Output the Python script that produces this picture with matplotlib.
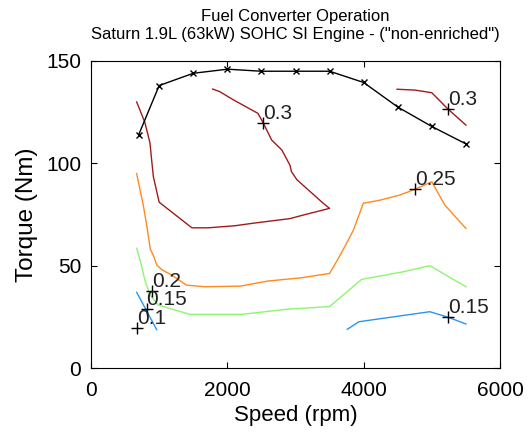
import numpy as np
import matplotlib
matplotlib.use('Agg')
import matplotlib.pyplot as plt

plt.rcParams['font.family'] = ['Liberation Sans', 'DejaVu Sans']

# wide open throttle (max torque) curve
speed_max = [700, 1000, 1500, 2000, 2500, 3000, 3500, 4000, 4500, 5000, 5500]
torque_max = [114, 138, 144, 146, 145, 145, 145, 139.5, 127.5, 118, 109.5]

# efficiency 0.30 contour, two pieces
eff30a_rpm = [670, 790, 865, 890, 915, 1000, 1480, 1720, 2110, 2370, 2920, 3110, 3500,
              3410, 3020, 2940, 2920, 2800, 2650, 2530, 2450, 2090, 1890, 1785]
eff30a_trq = [130, 120, 110, 101.5, 93.5, 81, 68.5, 68.5, 69.5, 70.7, 73, 74.7, 78,
              80.4, 92, 96, 99, 106.5, 111.4, 119.5, 124.4, 131, 135, 136.3]
eff30b_rpm = [4490, 4750, 5000, 5240, 5500]
eff30b_trq = [136.2, 135.8, 134.5, 126.4, 118.7]

# efficiency 0.25 contour
eff25_rpm = [670, 770, 830, 870, 915, 965, 1040, 1185, 1400, 1670, 2190, 2600, 3090, 3500,
             3630, 3750, 3850, 3995, 4240, 4530, 4750, 5000, 5190, 5500]
eff25_trq = [95, 79, 67, 58, 55, 50.3, 48, 45.4, 40.5, 39.7, 40, 42.5, 44.1, 46.2,
             53.6, 61, 67.4, 80.5, 82, 84.5, 87.3, 91, 79.6, 68.2]

# efficiency 0.20 contour
eff20_rpm = [670, 720, 790, 865, 985, 1450, 2210, 2870, 3500, 3970, 4580, 4970, 5500]
eff20_trq = [58.5, 52.8, 43, 35.7, 30.8, 26.2, 26.2, 28.7, 30, 43.3, 47, 50, 39.7]

# efficiency 0.15 contour, two pieces
eff15a_rpm = [670, 964]
eff15a_trq = [37, 18.7]
eff15b_rpm = [3760, 3930, 4290, 4970, 5240, 5500]
eff15b_trq = [18.9, 22.6, 24.3, 27.5, 24.8, 21.5]

# contour labels
label_text = ['0.3', '0.3', '0.25', '0.2', '0.15', '0.15', '0.1']
label_rpm = [2530, 5240, 4750, 890, 816, 5240, 670]
label_trq = [119.5, 126.4, 87.3, 37.5, 28.8, 24.8, 19.5]

c30 = '#a31a1a'
c25 = '#ff8a1f'
c20 = '#8cf570'
c15 = '#2b95f0'

fig = plt.figure(figsize=(5.32, 4.41), dpi=100)
ax = fig.add_axes([91 / 532, 1 - 368 / 441, 409 / 532, 307 / 441])

lw = 1.0
ax.plot(eff30a_rpm, eff30a_trq, color=c30, lw=lw)
ax.plot(eff30b_rpm, eff30b_trq, color=c30, lw=lw)
ax.plot(eff25_rpm, eff25_trq, color=c25, lw=lw)
ax.plot(eff20_rpm, eff20_trq, color=c20, lw=lw)
ax.plot(eff15a_rpm, eff15a_trq, color=c15, lw=lw)
ax.plot(eff15b_rpm, eff15b_trq, color=c15, lw=lw)

ax.plot(speed_max, torque_max, color='black', lw=lw, marker='x', markersize=5,
        markeredgewidth=1.0)

ax.plot(label_rpm, label_trq, linestyle='none', marker='+', color='black',
        markersize=9, markeredgewidth=1.0)
for s, xr, yt in zip(label_text, label_rpm, label_trq):
    ax.text(xr, yt, s, fontsize=15, ha='left', va='bottom', color='#222222')

ax.set_xlim(0, 6000)
ax.set_ylim(0, 150)
ax.set_xticks([0, 2000, 4000, 6000])
ax.set_yticks([0, 50, 100, 150])
ax.tick_params(direction='in', top=True, right=True, length=4, width=0.8,
               labelsize=15)
ax.tick_params(axis='x', pad=9)
ax.tick_params(axis='y', pad=7)
for sp in ax.spines.values():
    sp.set_linewidth(0.8)

ax.set_xlabel('Speed (rpm)', fontsize=16, labelpad=4)
ax.set_ylabel('Torque (Nm)', fontsize=17.5, labelpad=6)
ax.set_title('Fuel Converter Operation\nSaturn 1.9L (63kW) SOHC SI Engine - ("non-enriched")',
             fontsize=12, linespacing=1.2, pad=16)

fig.savefig('out.png', dpi=100)
